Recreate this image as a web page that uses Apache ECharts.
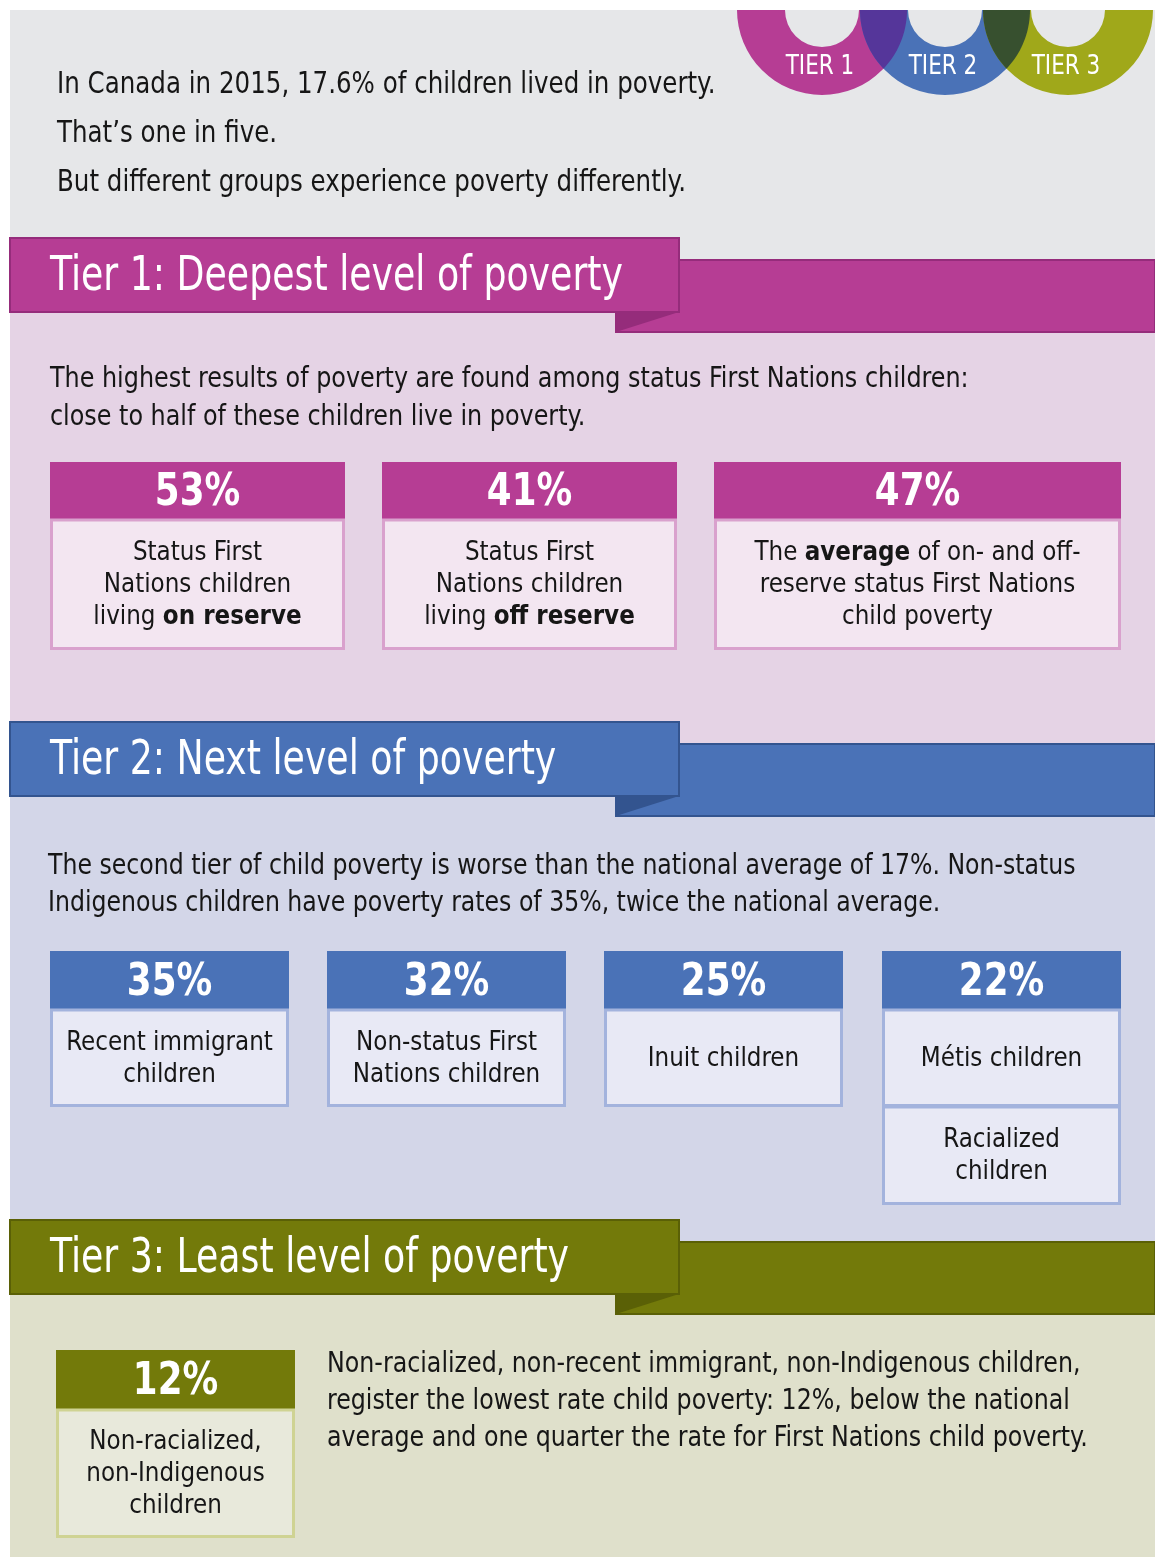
<!DOCTYPE html>
<html>
<head>
<meta charset="utf-8">
<script src="https://cdn.jsdelivr.net/npm/echarts@6/dist/echarts.min.js"></script>
<style>
  html, body { margin: 0; padding: 0; background: #ffffff; }
  #main { width: 1155px; height: 1559px; }
</style>
</head>
<body>
<div id="main"></div>
<script>
// ---- data ----
const introLines = [
  "In Canada in 2015, 17.6% of children lived in poverty.",
  "That’s one in five.",
  "But different groups experience poverty differently."
];
const ringLabels = ["TIER 1", "TIER 2", "TIER 3"];
const tierTitles = [
  "Tier 1: Deepest level of poverty",
  "Tier 2: Next level of poverty",
  "Tier 3: Least level of poverty"
];
const tier1Text = [
  "The highest results of poverty are found among status First Nations children:",
  "close to half of these children live in poverty."
];
const tier1Values = [53, 41, 47];
const tier1Labels = [
  "Status First\nNations children\nliving {b|on reserve}",
  "Status First\nNations children\nliving {b|off reserve}",
  "The {b|average} of on- and off-\nreserve status First Nations\nchild poverty"
];
const tier2Text = [
  "The second tier of child poverty is worse than the national average of 17%. Non-status",
  "Indigenous children have poverty rates of 35%, twice the national average."
];
const tier2Values = [35, 32, 25, 22];
const tier2Labels = [
  "Recent immigrant\nchildren",
  "Non-status First\nNations children",
  "Inuit children",
  "Métis children"
];
const tier2Extra = ["Racialized\nchildren"];
const tier3Values = [12];
const tier3Labels = ["Non-racialized,\nnon-Indigenous\nchildren"];
const tier3Text = [
  "Non-racialized, non-recent immigrant, non-Indigenous children,",
  "register the lowest rate child poverty: 12%, below the national",
  "average and one quarter the rate for First Nations child poverty."
];

// ---- styles ----
const FONT = '"Liberation Sans Narrow", "DejaVu Sans Condensed", "Noto Sans", sans-serif';
const INK = "#161616";
const themes = [
  { main: "#b63d94", dark: "#952c7b", bg: "#e5d3e5", card: "#f3e6f1", border: "#d9a1cd" },
  { main: "#4a72b7", dark: "#33548f", bg: "#d3d6e8", card: "#e8e9f5", border: "#a3b3dd" },
  { main: "#737a0a", dark: "#5a6006", bg: "#dfe0cb", card: "#e8e9db", border: "#cfd393" }
];
const ringColors = ["#b63d94", "#4a72b7", "#a0a81a"];
const overlapColors = ["#55369a", "#37502f"];

const chart = echarts.init(document.getElementById("main"), null, { renderer: "canvas" });
const els = [];

function rect(x, y, w, h, style) {
  els.push({ type: "rect", shape: { x: x, y: y, width: w, height: h }, style: style });
}
// sx squeezes the text sideways around its anchor (the source face is condensed)
function text(x, y, str, size, sx, opts) {
  opts = opts || {};
  els.push({
    type: "text", x: x, y: y, scaleX: sx,
    style: Object.assign({
      text: str, fill: INK, fontSize: size, fontFamily: FONT,
      align: "left", verticalAlign: "middle", lineHeight: size * 1.2,
      rich: { b: { fontWeight: "bold", fontSize: size, fontFamily: FONT, fill: INK, lineHeight: opts.lineHeight || size * 1.2 } }
    }, opts)
  });
}

// page panels
rect(10, 10, 1145, 250, { fill: "#e6e7e9" });
rect(10, 260, 1145, 484, { fill: themes[0].bg });
rect(10, 744, 1145, 498, { fill: themes[1].bg });
rect(10, 1242, 1145, 315, { fill: themes[2].bg });

// tier rings at the top right
const ringX = [822, 945, 1068], ringY = 10, R = 85, R0 = 37;
ringX.forEach(function (cx, i) {
  els.push({ type: "sector", shape: { cx: cx, cy: ringY, r: R, r0: R0, startAngle: 0, endAngle: Math.PI, clockwise: true },
    style: { fill: ringColors[i] } });
});
for (let i = 0; i < 2; i++) {
  const c1 = ringX[i], c2 = ringX[i + 1], xm = (c1 + c2) / 2;
  const a2 = Math.acos((xm - c2) / R), a1 = Math.acos((xm - c1) / R);
  const pts = [];
  for (let k = 0; k <= 20; k++) { const t = Math.PI + (a2 - Math.PI) * k / 20; pts.push([c2 + R * Math.cos(t), ringY + R * Math.sin(t)]); }
  for (let k = 0; k <= 20; k++) { const t = a1 - a1 * k / 20; pts.push([c1 + R * Math.cos(t), ringY + R * Math.sin(t)]); }
  els.push({ type: "polygon", shape: { points: pts }, style: { fill: overlapColors[i] } });
}
ringLabels.forEach(function (s, i) {
  text(ringX[i] - 2, 67, s, 26, 0.92, { fill: "#ffffff", align: "center" });
});

// intro
introLines.forEach(function (s, i) { text(57, 85 + i * 49, s, 31, 0.88); });

// section headers
function header(top, i) {
  const t = themes[i];
  rect(616, top + 22, 539, 72, { fill: t.main, stroke: t.dark, lineWidth: 2 });
  els.push({ type: "polygon", shape: { points: [[616, top + 74], [679, top + 74], [616, top + 94]] }, style: { fill: t.dark } });
  rect(10, top, 669, 74, { fill: t.main, stroke: t.dark, lineWidth: 2 });
  text(50, top + 40, tierTitles[i], 48, 0.84, { fill: "#ffffff" });
}
header(238, 0);
header(722, 1);
header(1220, 2);

// cards
function card(x, y, w, headH, bodyH, value, label, t) {
  if (value !== null) {
    rect(x, y, w, headH, { fill: t.main });
    text(x + w / 2, y + headH / 2 + 3, value + "%", 44, 0.9, { fill: "#ffffff", fontWeight: "bold", align: "center" });
  }
  const by = y + headH;
  rect(x + 1.5, by, w - 3, bodyH - 1.5, { fill: t.card, stroke: t.border, lineWidth: 3 });
  text(x + w / 2, by + bodyH / 2, label, 27, 0.95, { align: "center", lineHeight: 32 });
}

// tier 1
tier1Text.forEach(function (s, i) { text(50, 379 + i * 38, s, 29, 0.915); });
const t1x = [50, 382, 714], t1w = [295, 295, 407];
tier1Values.forEach(function (v, i) {
  card(t1x[i], 462, t1w[i], 58, 130, v, tier1Labels[i], themes[0]);
});

// tier 2
tier2Text.forEach(function (s, i) { text(48, 866 + i * 37, s, 29, 0.905); });
const t2x = [50, 327, 604, 882];
tier2Values.forEach(function (v, i) {
  card(t2x[i], 951, 239, 59, 97, v, tier2Labels[i], themes[1]);
});
tier2Extra.forEach(function (s) {
  card(882, 1107, 239, 0, 98, null, s, themes[1]);
});

// tier 3
tier3Values.forEach(function (v, i) {
  card(56, 1350, 239, 60, 128, v, tier3Labels[i], themes[2]);
});
tier3Text.forEach(function (s, i) { text(327, 1364 + i * 37, s, 29, 0.91); });

chart.setOption({
  animation: false,
  graphic: { elements: els }
});
</script>
</body>
</html>
